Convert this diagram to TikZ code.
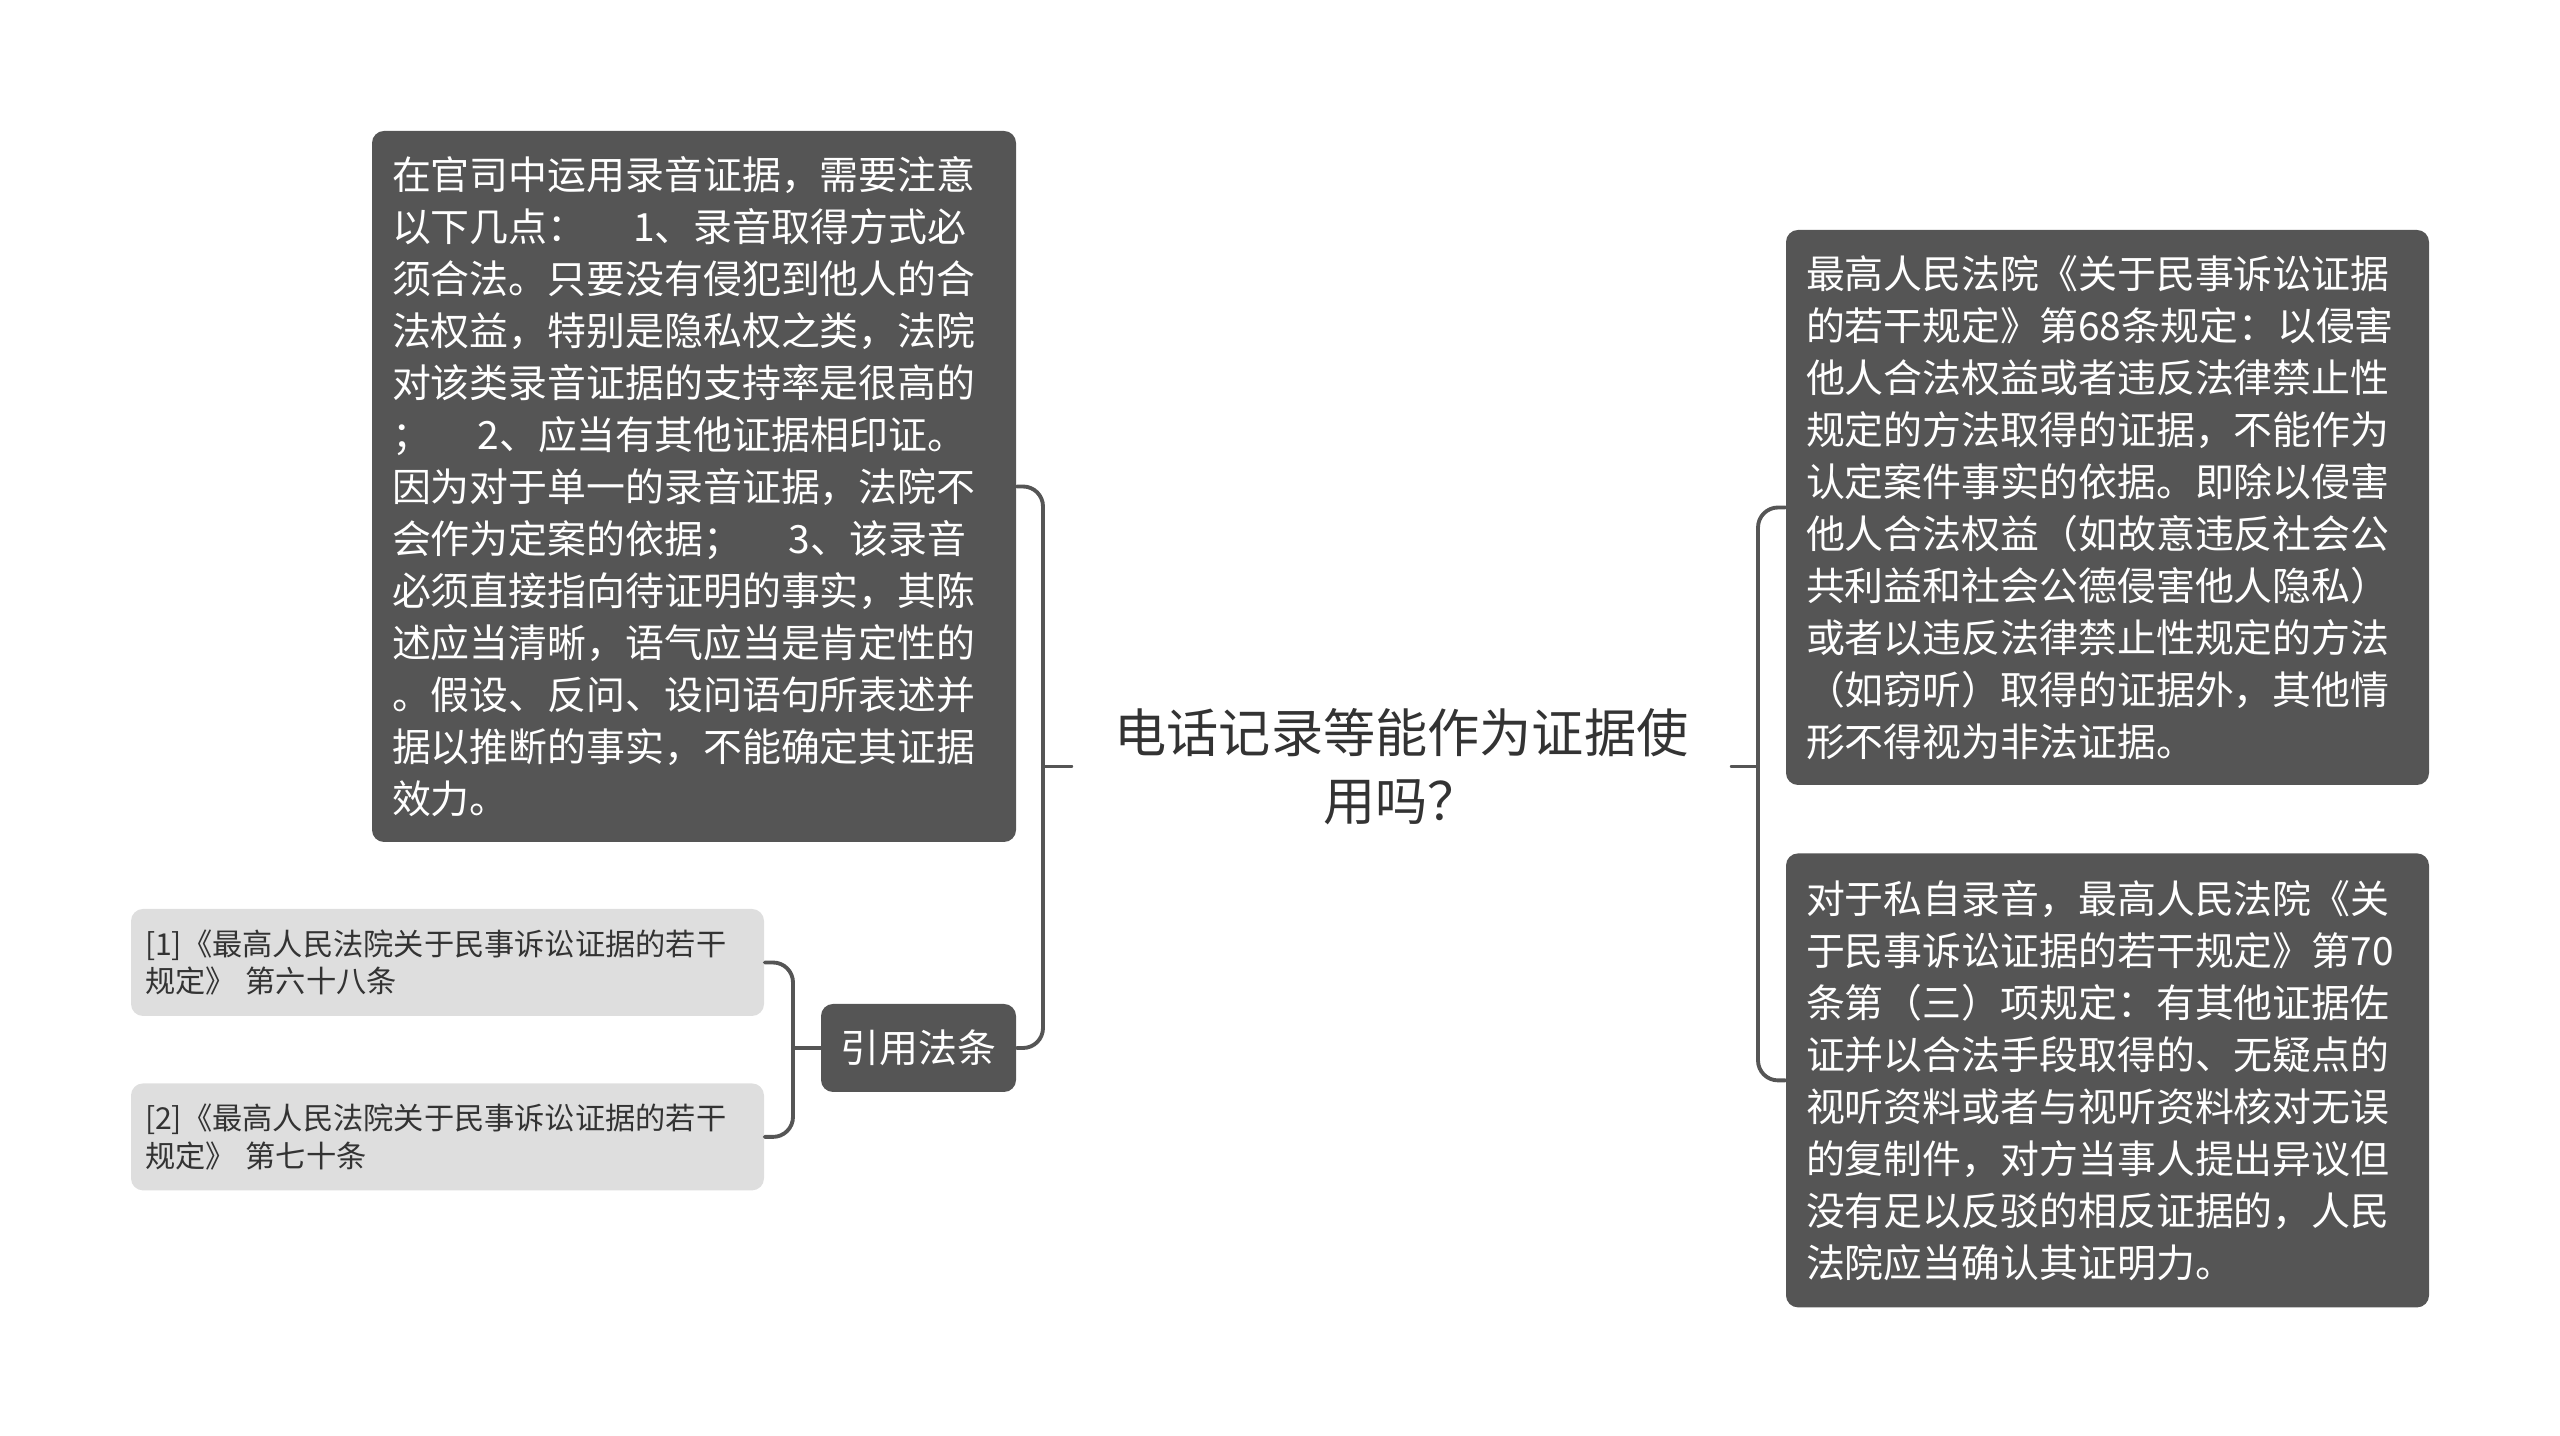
\documentclass[tikz,border=0pt]{standalone}
\usepackage{fontspec}
\setmainfont{Noto Sans CJK SC}
\usetikzlibrary{positioning}
\definecolor{mapDark}{RGB}{85,85,85}
\definecolor{mapLight}{RGB}{222,222,222}
\definecolor{mapInk}{RGB}{51,51,51}

\tikzset{
    topic/.style={fill=mapDark, text=white, rounded corners=0.12cm, align=left,
        inner xsep=0.2cm, inner ysep=0pt,
        font=\fontsize{11.07pt}{14.79pt}\selectfont},
    refbox/.style={fill=mapLight, text=mapInk, rounded corners=0.12cm, align=left,
        inner xsep=0.14cm, inner ysep=0pt, text width=6.05cm, minimum height=1.07cm,
        font=\fontsize{8.6pt}{10.8pt}\selectfont},
    link/.style={draw=mapDark, line width=1.1pt, rounded corners=0.2cm}
}

\begin{document}
\begin{tikzpicture}[line cap=round, line join=round]
    \useasboundingbox (0,0) rectangle (25.6,-14.36);

    % central question
    \node[text=mapInk, align=center, inner sep=0pt, minimum width=6.59cm,
        font=\fontsize{14.85pt}{19.2pt}\selectfont] (root) at (14.015,-7.665)
        {电话记录等能作为证据使\\用吗？};

    % left branch
    \node[topic, text width=6.04cm, minimum height=7.11cm] (usage) at (6.94,-4.865)
        {在官司中运用录音证据，需要注意\\
         以下几点：\hspace{1.2em}1、录音取得方式必\\
         须合法。只要没有侵犯到他人的合\\
         法权益，特别是隐私权之类，法院\\
         对该类录音证据的支持率是很高的\\
         ；\hspace{1.2em}2、应当有其他证据相印证。\\
         因为对于单一的录音证据，法院不\\
         会作为定案的依据；\hspace{1.2em}3、该录音\\
         必须直接指向待证明的事实，其陈\\
         述应当清晰，语气应当是肯定性的\\
         。假设、反问、设问语句所表述并\\
         据以推断的事实，不能确定其证据\\
         效力。};
    \node[topic, align=center, inner sep=0pt, minimum width=1.95cm, minimum height=0.88cm]
        (cite) at (9.185,-10.48) {引用法条};
    \node[refbox] (ref68) at (4.475,-9.625)
        {[1]《最高人民法院关于民事诉讼证据的若干\\规定》 第六十八条};
    \node[refbox, below=0.66cm of ref68] (ref70)
        {[2]《最高人民法院关于民事诉讼证据的若干\\规定》 第七十条};

    % right branch
    \node[topic, text width=6.03cm, minimum height=5.55cm] (rule68) at (21.075,-5.075)
        {最高人民法院《关于民事诉讼证据\\
         的若干规定》第68条规定：以侵害\\
         他人合法权益或者违反法律禁止性\\
         规定的方法取得的证据，不能作为\\
         认定案件事实的依据。即除以侵害\\
         他人合法权益（如故意违反社会公\\
         共利益和社会公德侵害他人隐私）\\
         或者以违反法律禁止性规定的方法\\
         （如窃听）取得的证据外，其他情\\
         形不得视为非法证据。};
    \node[topic, text width=6.03cm, minimum height=4.54cm, below=0.67cm of rule68] (rule70)
        {对于私自录音，最高人民法院《关\\
         于民事诉讼证据的若干规定》第70\\
         条第（三）项规定：有其他证据佐\\
         证并以合法手段取得的、无疑点的\\
         视听资料或者与视听资料核对无误\\
         的复制件，对方当事人提出异议但\\
         没有足以反驳的相反证据的，人民\\
         法院应当确认其证明力。};

    % connectors
    \coordinate (ljoin) at (10.43,-7.665);
    \coordinate (rjoin) at (17.58,-7.665);
    \coordinate (cjoin) at (7.93,-10.48);
    \draw[link] (usage.east) -| (ljoin);
    \draw[link] (cite.east) -| (ljoin);
    \draw[link] (root.west) -- (ljoin);
    \draw[link] (rule68.west) -| (rjoin);
    \draw[link] (rule70.west) -| (rjoin);
    \draw[link] (root.east) -- (rjoin);
    \draw[link] (ref68.east) -| (cjoin);
    \draw[link] (ref70.east) -| (cjoin);
    \draw[link] (cite.west) -- (cjoin);
\end{tikzpicture}
\end{document}
